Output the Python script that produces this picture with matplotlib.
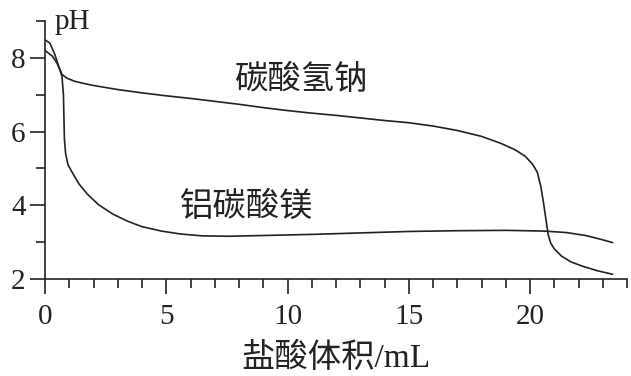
import matplotlib
matplotlib.use("Agg")
import matplotlib.pyplot as plt
from matplotlib.ticker import MultipleLocator

# values
nahco3_x = [0, 0.3, 0.5, 0.7, 0.9, 1.2, 1.5, 2, 3, 4, 5, 6, 7, 8, 9, 10, 11, 12, 13,
            14, 15, 16, 17, 18, 18.8, 19.4, 19.8, 20.1, 20.3, 20.45, 20.55, 20.65,
            20.75, 20.85, 21.0, 21.3, 21.7, 22.2, 22.8, 23.4]
nahco3_ph = [8.2, 8.05, 7.85, 7.55, 7.45, 7.37, 7.32, 7.25, 7.14, 7.05, 6.97, 6.9, 6.82,
             6.74, 6.65, 6.57, 6.5, 6.44, 6.37, 6.3, 6.24, 6.15, 6.03, 5.87, 5.68, 5.5,
             5.33, 5.12, 4.9, 4.5, 4.1, 3.65, 3.2, 2.98, 2.82, 2.62, 2.46, 2.34, 2.22, 2.13]

mgal_x = [0, 0.2, 0.4, 0.55, 0.7, 0.76, 0.78, 0.8, 0.85, 0.95, 1.15, 1.4, 1.75, 2.2,
          2.8, 3.4, 4.0, 4.8, 5.6, 6.5, 7.6, 9, 11, 13, 15, 17, 19, 20.6, 21.5, 22.3,
          22.9, 23.4]
mgal_ph = [8.49, 8.4, 8.1, 7.8, 7.5, 7.0, 6.4, 5.8, 5.4, 5.1, 4.86, 4.58, 4.3, 4.02,
           3.76, 3.57, 3.42, 3.3, 3.22, 3.17, 3.16, 3.18, 3.21, 3.25, 3.29, 3.31, 3.32,
           3.3, 3.26, 3.18, 3.08, 2.99]

x_ticks = [0, 5, 10, 15, 20]
y_ticks = [2, 4, 6, 8]

fonts = ['Liberation Serif', 'Noto Sans CJK SC']
plt.rcParams['font.family'] = fonts
ink = '#222222'

fig = plt.figure(figsize=(6.31, 3.76), dpi=100)
ax = fig.add_axes([45 / 631, 1 - 279 / 376, 582 / 631, 258 / 376])

ax.plot(nahco3_x, nahco3_ph, color=ink, lw=1.2)
ax.plot(mgal_x, mgal_ph, color=ink, lw=1.2)

ax.set_xlim(0, 24)
ax.set_ylim(2, 9)
ax.set_xticks(x_ticks)
ax.set_yticks(y_ticks)
ax.xaxis.set_minor_locator(MultipleLocator(1))
ax.yaxis.set_minor_locator(MultipleLocator(1))

for s in ['top', 'right']:
    ax.spines[s].set_visible(False)
for s in ['left', 'bottom']:
    ax.spines[s].set_color(ink)
    ax.spines[s].set_linewidth(1.2)

ax.tick_params(which='major', direction='out', length=11, width=1.2, color=ink,
               labelsize=21, labelcolor=ink)
ax.tick_params(which='minor', direction='out', length=6.5, width=1.2, color=ink)
ax.tick_params(axis='x', which='major', pad=7)
ax.tick_params(axis='y', which='major', pad=3)

ax.text(10.6, 7.38, '碳酸氢钠', fontsize=24, color=ink, ha='center', va='center')
ax.text(8.3, 3.95, '铝碳酸镁', fontsize=24, color=ink, ha='center', va='center')

fig.text(55 / 631, 1 - 29 / 376, 'pH', fontsize=21, color=ink, ha='left', va='baseline')
fig.text(336 / 631, 1 - 358 / 376, '盐酸体积/mL', fontsize=24, color=ink,
         ha='center', va='center')

fig.savefig('out.png', dpi=100)
